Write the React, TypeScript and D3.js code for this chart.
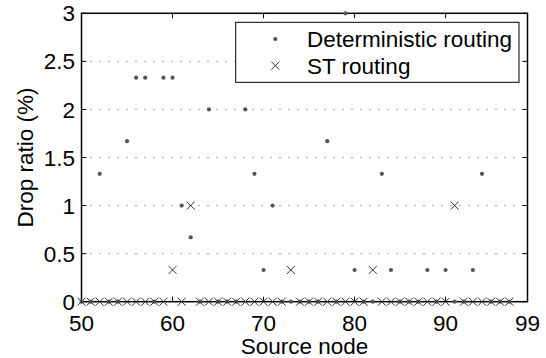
import React from 'react';
import * as d3 from 'd3';

const nodes = [50, 51, 52, 53, 54, 55, 56, 57, 58, 59, 60, 61, 62, 63, 64, 65, 66, 67, 68, 69, 70, 71, 72, 73, 74, 75, 76, 77, 78, 79, 80, 81, 82, 83, 84, 85, 86, 87, 88, 89, 90, 91, 92, 93, 94, 95, 96, 97];
const deterministic = [0, 0, 1.33, 0, 0, 1.67, 2.33, 2.33, 0, 2.33, 2.33, 1, 0.67, 0, 2, 0, 0, 0, 2, 1.33, 0.33, 1, 0, 0, 0, 0, 0, 1.67, 0, 3, 0.33, 0, 0, 1.33, 0.33, 0, 0, 0, 0.33, 0, 0.33, 0, 0, 0.33, 1.33, 0, 0, 0];
const stRouting = [0, 0, 0, 0, 0, 0, 0, 0, 0, 0, 0.33, 0, 1, 0, 0, 0, 0, 0, 0, 0, 0, 0, 0, 0.33, 0, 0, 0, 0, 0, 0, 0, 0, 0.33, 0, 0, 0, 0, 0, 0, 0, 0, 1, 0, 0, 0, 0, 0, 0];
const xTicks = [50, 60, 70, 80, 90, 99];
const yTicks = [0, 0.5, 1, 1.5, 2, 2.5, 3];
const legendLabels = ['Deterministic routing', 'ST routing'];

const W = 546;
const H = 358;
const font = 'Liberation Sans, Arial, sans-serif';
const fs = 22.5;

const Cross = ({ x, y, s = 4 }: { x: number; y: number; s?: number }) => (
  <path d={`M${x - s},${y - s}L${x + s},${y + s}M${x - s},${y + s}L${x + s},${y - s}`} stroke="#333" strokeWidth={1} fill="none" />
);

export default function App() {
  const x = d3.scaleLinear().domain([50, 99]).range([81.5, 527.5]);
  const y = d3.scaleLinear().domain([0, 3]).range([301.7, 13.3]);
  const [x0, x1] = x.range();
  const [y0, y1] = y.range();
  const tick = 5;

  return (
    <svg width={W} height={H} style={{ position: 'absolute', left: 0, top: 0, background: '#fff' }} fontFamily={font}>
      {/* grid */}
      {yTicks.slice(1, -1).map(t => (
        <line key={'g' + t} x1={x0} x2={x1} y1={y(t)} y2={y(t)} stroke="#555" strokeWidth={1} strokeDasharray="1,8" />
      ))}

      {/* box */}
      <rect x={x0} y={y1} width={x1 - x0} height={y0 - y1} fill="none" stroke="#000" strokeWidth={1.5} />

      {/* ticks */}
      {xTicks.map(t => (
        <g key={'xt' + t}>
          <line x1={x(t)} x2={x(t)} y1={y0} y2={y0 - tick} stroke="#000" />
          <line x1={x(t)} x2={x(t)} y1={y1} y2={y1 + tick} stroke="#000" />
          <text x={x(t)} y={331} textAnchor="middle" fontSize={fs}>{t}</text>
        </g>
      ))}
      {yTicks.map(t => (
        <g key={'yt' + t}>
          <line x1={x0} x2={x0 + tick} y1={y(t)} y2={y(t)} stroke="#000" />
          <line x1={x1} x2={x1 - tick} y1={y(t)} y2={y(t)} stroke="#000" />
          <text x={75} y={y(t)} dy="0.36em" textAnchor="end" fontSize={fs}>{t}</text>
        </g>
      ))}

      {/* axis labels */}
      <text x={(x0 + x1) / 2} y={354} textAnchor="middle" fontSize={fs}>Source node</text>
      <text transform={`translate(33,${(y0 + y1) / 2}) rotate(-90)`} textAnchor="middle" fontSize={fs}>Drop ratio (%)</text>

      {/* series */}
      {nodes.map((n, i) => (
        <circle key={'d' + n} cx={x(n)} cy={y(deterministic[i])} r={2.1} fill="#555" />
      ))}
      {nodes.map((n, i) => (
        <Cross key={'s' + n} x={x(n)} y={y(stRouting[i])} />
      ))}

      {/* legend */}
      <rect x={235.7} y={22.3} width={283.3} height={60} fill="#fff" stroke="#000" strokeWidth={1} />
      <circle cx={275.3} cy={39} r={2.1} fill="#555" />
      <Cross x={275.3} y={65.7} />
      <text x={307} y={39} dy="0.36em" fontSize={fs}>{legendLabels[0]}</text>
      <text x={307} y={65.7} dy="0.36em" fontSize={fs}>{legendLabels[1]}</text>
    </svg>
  );
}
